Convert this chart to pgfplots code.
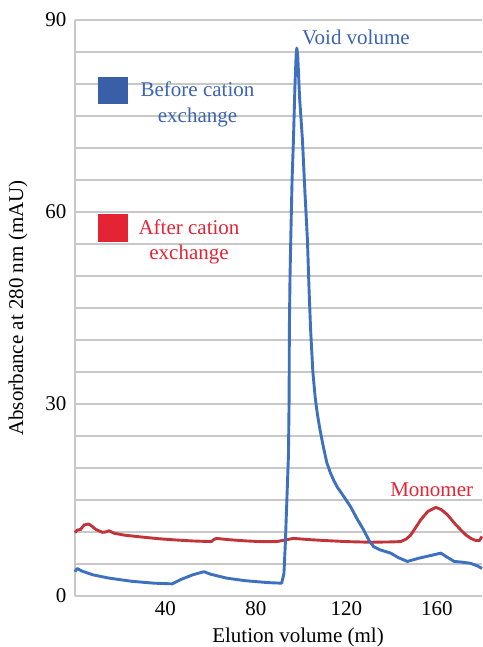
\documentclass[border=0pt]{standalone}
\usepackage{pgfplots}
\pgfplotsset{compat=1.18}
\usepackage{fontspec}
\setmainfont{Liberation Serif}
\definecolor{blueline}{RGB}{62,112,192}
\definecolor{redline}{RGB}{192,52,58}
\definecolor{bluetext}{RGB}{60,100,178}
\definecolor{redtext}{RGB}{228,36,52}
\definecolor{gridgray}{RGB}{200,200,200}
\begin{document}
\begin{tikzpicture}[x=1pt,y=1pt]
\begin{axis}[
  at={(0,0)}, anchor=south west,
  scale only axis, width=407pt, height=576pt,
  xmin=0, xmax=180, ymin=0, ymax=90,
  clip=false,
  axis line style={draw=none},
  xtick={40,80,120,160},
  ytick={0,30,60,90},
  minor ytick={5,10,15,20,25,35,40,45,50,55,65,70,75,80,85},
  ymajorgrids, yminorgrids,
  extra x ticks={0}, extra x tick labels={}, extra x tick style={grid=major},
  major grid style={gridgray, line width=2pt},
  minor grid style={gridgray, line width=2pt},
  major tick length=0pt, minor tick length=0pt,
  tick style={draw=none},
  /pgf/number format/assume math mode=true,
  tick label style={font=\fontsize{21}{25}\selectfont, text=black},
  xticklabel style={yshift=-2pt},
  yticklabel style={xshift=-5pt},
  label style={font=\fontsize{21}{25}\selectfont},
  xlabel={Elution volume (ml)},
  xlabel style={at={(axis description cs:0.548,0)}, anchor=base, yshift=-46pt},
  ylabel={Absorbance at 280 nm (mAU)},
  ylabel style={at={(axis description cs:-0.140,0.5)}, anchor=center},
]
\addplot[redline, line width=2.9pt, line join=round] coordinates {
(0,9.9) (1,10.3) (2.5,10.4) (4,11.1) (6,11.25) (7.5,10.9) (9.2,10.4) (12.1,9.95)
(13.5,10.0) (15.1,10.2) (17.3,9.8) (22,9.5) (29.9,9.2) (37,8.95) (44.7,8.75)
(52,8.6) (60.3,8.5) (61.3,8.8) (62.5,9.0) (68,8.8) (75.9,8.6) (82,8.5) (89.2,8.5)
(92.9,8.75) (96.6,9.0) (104,8.8) (111.4,8.65) (120,8.5) (130.7,8.4) (140,8.45)
(144,8.5) (146.5,8.9) (148.4,9.5) (150.5,10.6) (152.9,11.9) (156,13.2) (159.6,13.85)
(162,13.5) (164.7,12.7) (168,11.3) (170.7,10.3) (173,9.5) (175.1,9.0) (177,8.7)
(178.8,8.65) (180,9.3)
};
\addplot[blueline, line width=2.9pt, line join=round] coordinates {
(0,3.8) (1,4.3) (3,3.9) (8,3.3) (15,2.8) (25,2.3) (35,2.0) (43,1.9) (47,2.6)
(52,3.3) (57,3.8) (60,3.4) (67,2.8) (75,2.4) (85,2.1) (91.4,2.0) (92.4,3.5)
(93.0,8) (93.7,15) (94.4,22) (94.7,31) (94.8,41.6) (95.1,50) (95.5,57) (96.0,65)
(96.6,71.2) (97.3,80) (97.8,84.5) (98.1,85.6) (98.5,84.5) (99.3,78) (100.6,71.2)
(101.7,63) (102.8,55.6) (103.5,48) (104.2,41.6) (105.2,35) (106.2,31.1) (107.2,28.4)
(108.4,25.9) (109.9,23.2) (111.4,20.8) (113.0,19.2) (114.4,18.1) (116,17) (118,16)
(121.8,14) (125,11.9) (127.7,10.3) (130,8.7) (132.1,7.7) (135,7.2) (139.6,6.7)
(143,6.0) (147,5.4) (152,5.9) (157,6.3) (161.8,6.7) (164,6.2) (167.7,5.4) (171,5.3)
(175,5.1) (178,4.7) (180,4.3)
};
\end{axis}
\begin{scope}[font=\fontsize{21}{25}\selectfont]
\node[anchor=base west, text=bluetext, inner sep=0pt] at (227,551) {Void volume};
\fill[bluetext!95!black] (23,492) rectangle (53,519);
\node[anchor=base, text=bluetext, inner sep=0pt] at (122.5,499) {Before cation};
\node[anchor=base, text=bluetext, inner sep=0pt] at (122.5,473) {exchange};
\fill[redtext] (23,354) rectangle (53,382);
\node[anchor=base, text=redtext, inner sep=0pt] at (114,361) {After cation};
\node[anchor=base, text=redtext, inner sep=0pt] at (114,336) {exchange};
\node[anchor=base, text=redtext, inner sep=0pt] at (356.7,99.3) {Monomer};
\end{scope}
\pgfresetboundingbox
\path[use as bounding box] (-75,-51) rectangle (407,596);
\end{tikzpicture}
\end{document}
